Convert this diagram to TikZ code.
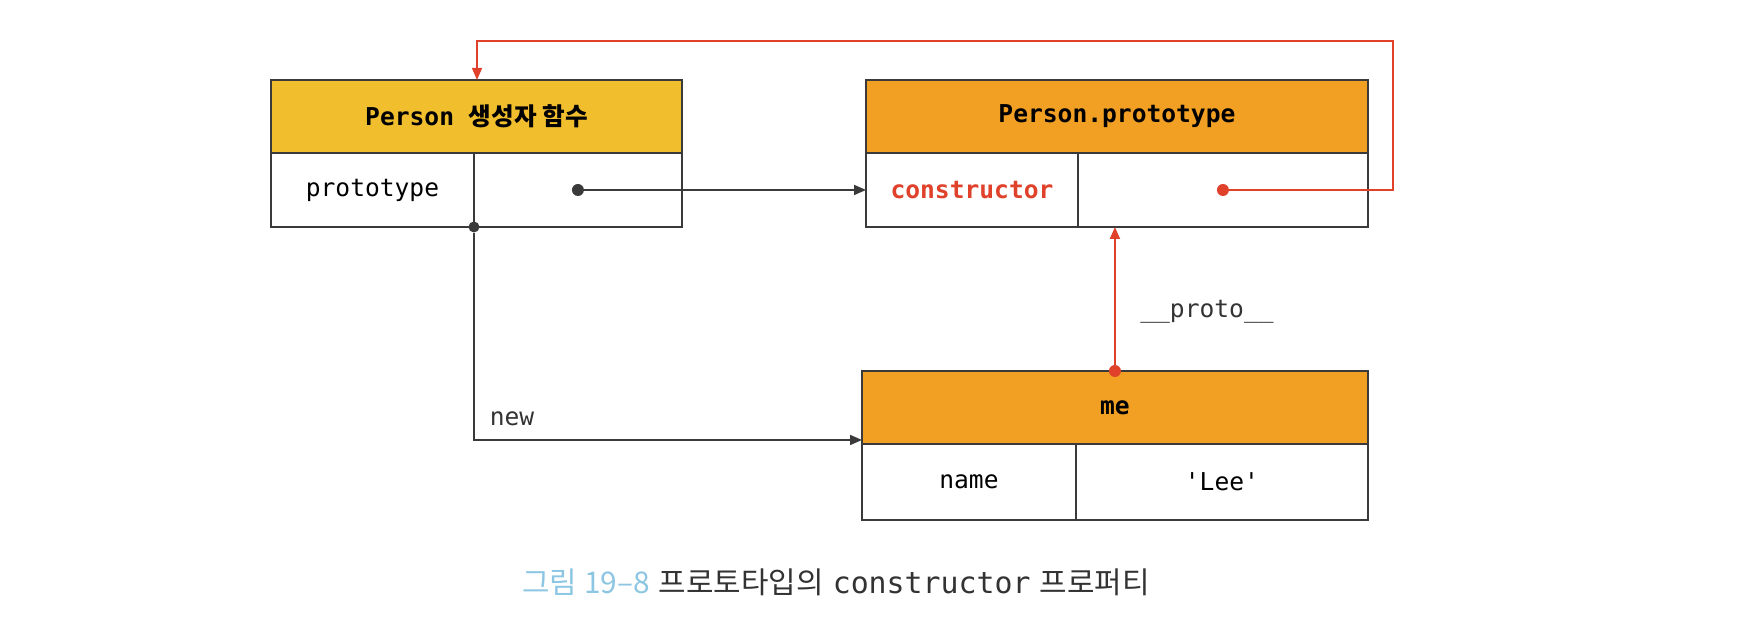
\documentclass[tikz,border=0pt]{standalone}
\usepackage{fontspec}
\setmonofont{DejaVu Sans Mono}
\newfontfamily\krfont{Noto Sans CJK KR}
\usetikzlibrary{arrows.meta,positioning}
\definecolor{hdrYellow}{HTML}{F1BF2E}
\definecolor{hdrOrange}{HTML}{F2A024}
\definecolor{linkRed}{HTML}{E0412B}
\definecolor{capBlue}{HTML}{8DC6E3}
\definecolor{lineGray}{HTML}{3A3A3A}
\definecolor{capGray}{HTML}{333333}
\tikzset{
  hdr/.style={draw=lineGray, line width=1.2pt, minimum height=1.46cm, inner sep=0pt,
    outer sep=0pt, anchor=north west, font=\fontsize{14}{16}\selectfont\ttfamily\bfseries},
  cell/.style={draw=lineGray, line width=1.2pt, minimum height=1.48cm, inner sep=0pt,
    outer sep=0pt, anchor=north west, font=\fontsize{14}{16}\selectfont\ttfamily},
  dot/.style={circle, fill=#1, inner sep=0pt, minimum size=0.24cm},
  link/.style={line width=1pt, -{Triangle[length=0.24cm,width=0.2cm]}},
  lbl/.style={font=\fontsize{14}{16}\selectfont\ttfamily, text=capGray},
}

\begin{document}
\begin{tikzpicture}[x=0.02cm, y=0.02cm]
    \useasboundingbox (0,0) rectangle (1748,618);
    % Person constructor
    \node[hdr, fill=hdrYellow, minimum width=8.22cm] (fnHdr) at (271,538) {Person {\krfont 생성자 함수}};
    \node[cell, minimum width=4.06cm] (fnKey) at (fnHdr.south west) {prototype};
    \node[cell, minimum width=4.16cm] (fnVal) at (fnKey.north east) {};
    % Person.prototype
    \node[hdr, fill=hdrOrange, minimum width=10.04cm] (protoHdr) at (866,538) {Person.prototype};
    \node[cell, minimum width=4.24cm, text=linkRed, font=\fontsize{14}{16}\selectfont\ttfamily\bfseries] (protoKey) at (protoHdr.south west) {constructor};
    \node[cell, minimum width=5.80cm] (protoVal) at (protoKey.north east) {};
    % me
    \node[hdr, fill=hdrOrange, minimum width=10.12cm] (meHdr) at (862,247) {me};
    \node[cell, minimum width=4.28cm, minimum height=1.52cm] (meKey) at (meHdr.south west) {name};
    \node[cell, minimum width=5.84cm, minimum height=1.52cm] (meVal) at (meKey.north east) {'Lee'};

    % prototype link
    \node[dot=lineGray] (fnDot) at (fnVal.center) {};
    \draw[link, lineGray] (fnDot) -- (fnDot -| protoKey.west);

    % constructor link
    \node[dot=linkRed] (ctorDot) at (protoVal.center) {};
    \coordinate (loopR) at (1393,577);
    \coordinate (loopL) at (477,577);
    \draw[link, linkRed, line width=0.8pt] (ctorDot) -- (ctorDot -| loopR) -- (loopR) -- (loopL) -- (loopL |- fnHdr.north);

    % new
    \node[dot=lineGray, minimum size=0.22cm] (newDot) at (fnKey.south east) {};
    \draw[link, lineGray] (newDot) |- ([yshift=0.08cm]meHdr.south west);
    \node[lbl] (newLbl) at (512,199) {new};

    % __proto__
    \node[dot=linkRed] (meDot) at (meHdr.north) {};
    \draw[link, linkRed] (meDot) -- (meDot |- protoVal.south);
    \node[lbl] (protoLbl) at (1207,306) {\_\_proto\_\_};

    % caption
    \node[font=\fontsize{17}{19}\selectfont, text=capGray] (caption) at (836,36)
      {{\krfont\color{capBlue}그림 19–8} {\krfont 프로토타입의} {\ttfamily constructor} {\krfont 프로퍼티}};
\end{tikzpicture}
\end{document}
